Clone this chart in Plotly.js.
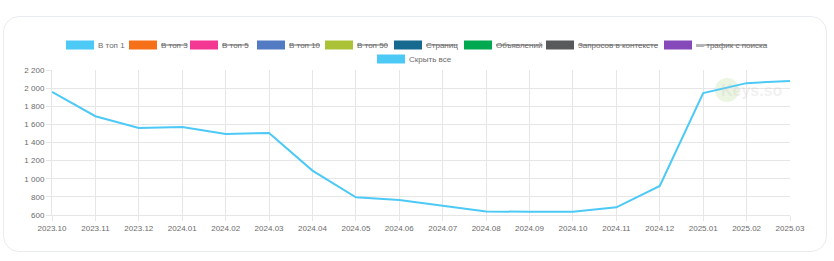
<!DOCTYPE html>
<html>
<head>
<meta charset="utf-8">
<script src="https://cdn.plot.ly/plotly-3.0.1.min.js"></script>
<style>
  html, body { margin: 0; padding: 0; background: #ffffff; }
  #wrap { position: relative; width: 834px; height: 261px; }
  #card { position: absolute; left: 3px; top: 16px; width: 824px; height: 236px;
          border: 1px solid #e9ecef; border-radius: 16px; box-sizing: border-box; }
  #chart { position: absolute; left: 0; top: 0; width: 834px; height: 261px; }
</style>
</head>
<body>
<div id="wrap">
  <div id="card"></div>
  <div id="chart"></div>
</div>
<script>
// ---- data ----
const months = ["2023.10","2023.11","2023.12","2024.01","2024.02","2024.03","2024.04","2024.05","2024.06",
                "2024.07","2024.08","2024.09","2024.10","2024.11","2024.12","2025.01","2025.02","2025.03"];
const top1 = [1960, 1690, 1560, 1570, 1495, 1505, 1090, 795, 765, 700, 640, 635, 635, 685, 920, 1945, 2055, 2080];
const legendNames = ["В топ 1","В топ 3","В топ 5","В топ 10","В топ 50","Страниц","Объявлений","Запросов в контексте","— трафик с поиска","Скрыть все"];
const legendColors = ["#4dc9f6","#f67019","#f53794","#537bc4","#acc236","#166a8f","#00a950","#58595b","#8549ba","#4dc9f6"];
const legendHidden = [false,true,true,true,true,true,true,true,true,false];
const yTicks = [600, 800, 1000, 1200, 1400, 1600, 1800, 2000, 2200];

// ---- layout helpers (pixel geometry) ----
const W = 834, H = 261;
const M = {l: 52, r: 44, t: 70, b: 46};
const PW = W - M.l - M.r, PH = H - M.t - M.b;
const px = x => (x - M.l) / PW;
const py = y => (H - M.b - y) / PH;

const FONT = "Liberation Sans, Arial, Helvetica, sans-serif";
const FS = 8;
const TXT = "#6b6b6b";

// legend box left positions (px) and row center y (px)
const boxX = [66, 129, 190, 257, 325, 394, 464, 546, 664, 377];
const rowY = [45, 45, 45, 45, 45, 45, 45, 45, 45, 59];

const cvs = document.createElement("canvas").getContext("2d");
cvs.font = FS + "px " + FONT;

const shapes = [];
const annotations = [];
legendNames.forEach((name, i) => {
  const bx = boxX[i], cy = rowY[i];
  shapes.push({type: "rect", xref: "paper", yref: "paper",
    x0: px(bx), x1: px(bx + 28), y0: py(cy + 4.5), y1: py(cy - 4.5),
    fillcolor: legendColors[i], line: {width: 0}});
  const tx = bx + 31;
  annotations.push({xref: "paper", yref: "paper", x: px(tx), y: py(cy),
    xanchor: "left", yanchor: "middle", showarrow: false, text: name,
    font: {family: FONT, size: FS, color: TXT}, borderpad: 0});
  if (legendHidden[i]) {
    const w = cvs.measureText(name).width;
    shapes.push({type: "line", xref: "paper", yref: "paper",
      x0: px(tx + 1), x1: px(tx + 1 + w), y0: py(cy), y1: py(cy),
      line: {color: TXT, width: 1}});
  }
});

// watermark
shapes.push({type: "circle", xref: "paper", yref: "paper",
  x0: px(715), x1: px(739), y0: py(102), y1: py(78),
  fillcolor: "rgba(175,215,135,0.25)", line: {width: 0}, layer: "below"});
annotations.push({xref: "paper", yref: "paper", x: px(719), y: py(90),
  xanchor: "left", yanchor: "middle", showarrow: false, text: "Keys.so",
  font: {family: FONT, size: 16, color: "rgba(200,200,200,0.25)", weight: "bold"}});

const trace = {
  x: months, y: top1, type: "scatter", mode: "lines", name: legendNames[0],
  line: {color: legendColors[0], width: 2}, hoverinfo: "x+y"
};

const grid = "#e6e6e6";
const layout = {
  width: W, height: H,
  margin: M,
  paper_bgcolor: "rgba(0,0,0,0)", plot_bgcolor: "rgba(0,0,0,0)",
  showlegend: false,
  separators: ", ",
  font: {family: FONT, size: FS, color: TXT},
  xaxis: {type: "category", range: [0, months.length - 1], showgrid: true, gridcolor: grid,
    ticks: "outside", ticklen: 5, tickcolor: grid, showline: true, linecolor: grid,
    zeroline: false, tickangle: 0, tickfont: {family: FONT, size: FS, color: TXT}, fixedrange: true},
  yaxis: {range: [600, 2200], tickvals: yTicks, tickformat: ",d", showgrid: true, gridcolor: grid,
    ticks: "outside", ticklen: 5, tickcolor: grid, showline: true, linecolor: grid,
    zeroline: false, tickfont: {family: FONT, size: FS, color: TXT}, fixedrange: true},
  shapes: shapes,
  annotations: annotations
};

Plotly.newPlot("chart", [trace], layout, {displayModeBar: false, staticPlot: true});
</script>
</body>
</html>
